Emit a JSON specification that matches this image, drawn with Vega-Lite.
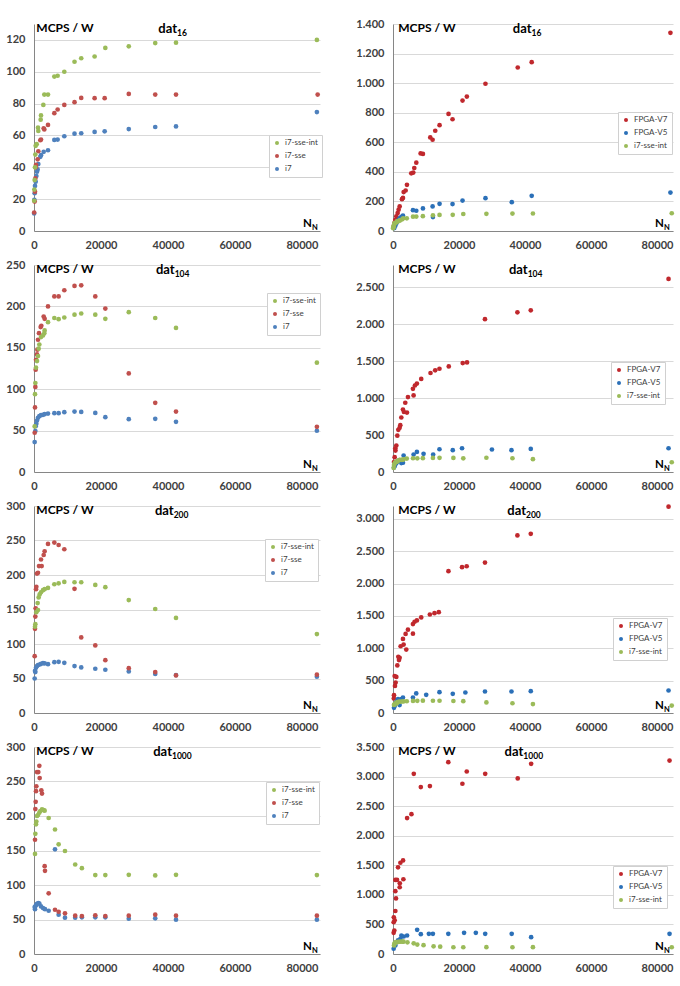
{
"$schema":"https://vega.github.io/schema/vega-lite/v6.json",
"padding":{"left":5,"top":18,"right":0,"bottom":0},
"bounds":"flush",
"columns":2,
"spacing":{"row":34,"column":73},
"resolve":{"scale":{"color":"independent","x":"independent","y":"independent"},"legend":{"color":"independent"}},
"config":{
 "view":{"stroke":null},
 "font":"Lato",
 "axis":{"labelFont":"Lato","labelFontWeight":"bold","labelFontSize":11,"labelColor":"#404040","ticks":false,"domainColor":"#868686","gridColor":"#D9D9D9","gridWidth":1,"labelPadding":9,"title":null,"labelOverlap":false},
 "axisX":{"grid":false,"labelPadding":8,"labelFlush":false},
 "axisY":{"grid":true},
 "legend":{"orient":"none","strokeColor":"#D0D0D0","fillColor":"#FFFFFF","padding":4,"symbolType":"circle","symbolSize":16,"symbolStrokeWidth":0,"labelFont":"Lato","labelFontSize":8,"labelColor":"#404040","rowPadding":5,"labelOffset":4},
 "style":{
  "lbl":{"font":"Lato","fontWeight":"bold","fontSize":12,"fill":"#404040","align":"left","baseline":"alphabetic"},
  "big":{"font":"Lato","fontWeight":"bold","fontSize":13,"fill":"#404040","align":"right","baseline":"alphabetic"},
  "nn":{"font":"Lato","fontWeight":"bold","fontSize":11.5,"fill":"#404040","align":"right","baseline":"alphabetic"},
  "sub":{"font":"Lato","fontWeight":"bold","fontSize":8.5,"fill":"#404040","align":"left","baseline":"alphabetic"},
  "nsub":{"font":"Lato","fontWeight":"bold","fontSize":7.5,"fill":"#404040","align":"left","baseline":"alphabetic"}
 }
},
"concat":[
 {"width":286,"height":207,"layer":[
  {"data":{"name":"pts"},"transform":[{"filter":"datum.d=='16'&&indexof(datum.s,'i7')==0"}],"mark":{"type":"circle","size":22,"opacity":1},
   "encoding":{"x":{"field":"n","type":"quantitative","scale":{"domain":[0,85400],"nice":false},"axis":{"values":[0,20000,40000,60000,80000],"format":"d","tickCount":20}},
    "y":{"field":"v","type":"quantitative","scale":{"domain":[0,130],"nice":false},"axis":{"values":[0,20,40,60,80,100,120],"tickCount":20}},
    "color":{"field":"s","type":"nominal","scale":{"domain":["i7-sse-int","i7-sse","i7"],"range":["#9BBB59","#C0504D","#4F81BD"]},"legend":{"orient":"none","legendX":235,"legendY":111,"title":null}}}},
  {"data":{"values":[{}]},"mark":{"type":"text","style":"lbl","dy":8},"encoding":{"x":{"datum":700},"y":{"datum":130},"text":{"value":"MCPS / W"}}},
  {"data":{"values":[{}]},"mark":{"type":"text","style":"big","dy":9},"encoding":{"x":{"datum":42700},"y":{"datum":130},"text":{"value":"dat"}}},
  {"data":{"values":[{}]},"mark":{"type":"text","style":"sub","dy":11.5},"encoding":{"x":{"datum":42700},"y":{"datum":130},"text":{"value":"16"}}},
  {"data":{"values":[{}]},"mark":{"type":"text","style":"nn","dy":-4},"encoding":{"x":{"datum":83000},"y":{"datum":0},"text":{"value":"N"}}},
  {"data":{"values":[{}]},"mark":{"type":"text","style":"nsub","dy":-1},"encoding":{"x":{"datum":83000},"y":{"datum":0},"text":{"value":"N"}}}
 ]},
 {"width":280,"height":207,"layer":[
  {"data":{"name":"pts"},"transform":[{"filter":"datum.d=='16'&&(datum.s=='i7-sse-int'||indexof(datum.s,'FPGA')==0)"}],"mark":{"type":"circle","size":22,"opacity":1},
   "encoding":{"x":{"field":"n","type":"quantitative","scale":{"domain":[0,84850],"nice":false},"axis":{"values":[0,20000,40000,60000,80000],"format":"d","tickCount":20}},
    "y":{"field":"v","type":"quantitative","scale":{"domain":[0,1400],"nice":false},"axis":{"values":[0,200,400,600,800,1000,1200,1400],"tickCount":20,"labelExpr":"replace(format(datum.value,','),',','.')"}},
    "color":{"field":"s","type":"nominal","scale":{"domain":["FPGA-V7","FPGA-V5","i7-sse-int"],"range":["#C0282D","#2B70B8","#9BBB59"]},"legend":{"orient":"none","legendX":225,"legendY":88,"title":null}}}},
  {"data":{"values":[{}]},"mark":{"type":"text","style":"lbl","dy":8},"encoding":{"x":{"datum":1600},"y":{"datum":1400},"text":{"value":"MCPS / W"}}},
  {"data":{"values":[{}]},"mark":{"type":"text","style":"big","dy":9},"encoding":{"x":{"datum":42000},"y":{"datum":1400},"text":{"value":"dat"}}},
  {"data":{"values":[{}]},"mark":{"type":"text","style":"sub","dy":11.5},"encoding":{"x":{"datum":42000},"y":{"datum":1400},"text":{"value":"16"}}},
  {"data":{"values":[{}]},"mark":{"type":"text","style":"nn","dy":-4},"encoding":{"x":{"datum":82100},"y":{"datum":0},"text":{"value":"N"}}},
  {"data":{"values":[{}]},"mark":{"type":"text","style":"nsub","dy":-1},"encoding":{"x":{"datum":82100},"y":{"datum":0},"text":{"value":"N"}}}
 ]},
 {"width":286,"height":207,"layer":[
  {"data":{"name":"pts"},"transform":[{"filter":"datum.d=='104'&&indexof(datum.s,'i7')==0"}],"mark":{"type":"circle","size":22,"opacity":1},
   "encoding":{"x":{"field":"n","type":"quantitative","scale":{"domain":[0,85400],"nice":false},"axis":{"values":[0,20000,40000,60000,80000],"format":"d","tickCount":20}},
    "y":{"field":"v","type":"quantitative","scale":{"domain":[0,250],"nice":false},"axis":{"values":[0,50,100,150,200,250],"tickCount":20}},
    "color":{"field":"s","type":"nominal","scale":{"domain":["i7-sse-int","i7-sse","i7"],"range":["#9BBB59","#C0504D","#4F81BD"]},"legend":{"orient":"none","legendX":233,"legendY":28,"title":null}}}},
  {"data":{"values":[{}]},"mark":{"type":"text","style":"lbl","dy":8},"encoding":{"x":{"datum":700},"y":{"datum":250},"text":{"value":"MCPS / W"}}},
  {"data":{"values":[{}]},"mark":{"type":"text","style":"big","dy":9},"encoding":{"x":{"datum":42000},"y":{"datum":250},"text":{"value":"dat"}}},
  {"data":{"values":[{}]},"mark":{"type":"text","style":"sub","dy":11.5},"encoding":{"x":{"datum":42000},"y":{"datum":250},"text":{"value":"104"}}},
  {"data":{"values":[{}]},"mark":{"type":"text","style":"nn","dy":-4},"encoding":{"x":{"datum":83000},"y":{"datum":0},"text":{"value":"N"}}},
  {"data":{"values":[{}]},"mark":{"type":"text","style":"nsub","dy":-1},"encoding":{"x":{"datum":83000},"y":{"datum":0},"text":{"value":"N"}}}
 ]},
 {"width":280,"height":207,"layer":[
  {"data":{"name":"pts"},"transform":[{"filter":"datum.d=='104'&&(datum.s=='i7-sse-int'||indexof(datum.s,'FPGA')==0)"}],"mark":{"type":"circle","size":22,"opacity":1},
   "encoding":{"x":{"field":"n","type":"quantitative","scale":{"domain":[0,84850],"nice":false},"axis":{"values":[0,20000,40000,60000,80000],"format":"d","tickCount":20}},
    "y":{"field":"v","type":"quantitative","scale":{"domain":[0,2800],"nice":false},"axis":{"values":[0,500,1000,1500,2000,2500],"tickCount":20,"labelExpr":"replace(format(datum.value,','),',','.')"}},
    "color":{"field":"s","type":"nominal","scale":{"domain":["FPGA-V7","FPGA-V5","i7-sse-int"],"range":["#C0282D","#2B70B8","#9BBB59"]},"legend":{"orient":"none","legendX":218,"legendY":97,"title":null}}}},
  {"data":{"values":[{}]},"mark":{"type":"text","style":"lbl","dy":8},"encoding":{"x":{"datum":1600},"y":{"datum":2800},"text":{"value":"MCPS / W"}}},
  {"data":{"values":[{}]},"mark":{"type":"text","style":"big","dy":9},"encoding":{"x":{"datum":40800},"y":{"datum":2800},"text":{"value":"dat"}}},
  {"data":{"values":[{}]},"mark":{"type":"text","style":"sub","dy":11.5},"encoding":{"x":{"datum":40800},"y":{"datum":2800},"text":{"value":"104"}}},
  {"data":{"values":[{}]},"mark":{"type":"text","style":"nn","dy":-4},"encoding":{"x":{"datum":82100},"y":{"datum":0},"text":{"value":"N"}}},
  {"data":{"values":[{}]},"mark":{"type":"text","style":"nsub","dy":-1},"encoding":{"x":{"datum":82100},"y":{"datum":0},"text":{"value":"N"}}}
 ]},
 {"width":286,"height":207,"layer":[
  {"data":{"name":"pts"},"transform":[{"filter":"datum.d=='200'&&indexof(datum.s,'i7')==0"}],"mark":{"type":"circle","size":22,"opacity":1},
   "encoding":{"x":{"field":"n","type":"quantitative","scale":{"domain":[0,85400],"nice":false},"axis":{"values":[0,20000,40000,60000,80000],"format":"d","tickCount":20}},
    "y":{"field":"v","type":"quantitative","scale":{"domain":[0,300],"nice":false},"axis":{"values":[0,50,100,150,200,250,300],"tickCount":20}},
    "color":{"field":"s","type":"nominal","scale":{"domain":["i7-sse-int","i7-sse","i7"],"range":["#9BBB59","#C0504D","#4F81BD"]},"legend":{"orient":"none","legendX":231,"legendY":33,"title":null}}}},
  {"data":{"values":[{}]},"mark":{"type":"text","style":"lbl","dy":8},"encoding":{"x":{"datum":700},"y":{"datum":300},"text":{"value":"MCPS / W"}}},
  {"data":{"values":[{}]},"mark":{"type":"text","style":"big","dy":9},"encoding":{"x":{"datum":41700},"y":{"datum":300},"text":{"value":"dat"}}},
  {"data":{"values":[{}]},"mark":{"type":"text","style":"sub","dy":11.5},"encoding":{"x":{"datum":41700},"y":{"datum":300},"text":{"value":"200"}}},
  {"data":{"values":[{}]},"mark":{"type":"text","style":"nn","dy":-4},"encoding":{"x":{"datum":83000},"y":{"datum":0},"text":{"value":"N"}}},
  {"data":{"values":[{}]},"mark":{"type":"text","style":"nsub","dy":-1},"encoding":{"x":{"datum":83000},"y":{"datum":0},"text":{"value":"N"}}}
 ]},
 {"width":280,"height":207,"layer":[
  {"data":{"name":"pts"},"transform":[{"filter":"datum.d=='200'&&(datum.s=='i7-sse-int'||indexof(datum.s,'FPGA')==0)"}],"mark":{"type":"circle","size":22,"opacity":1},
   "encoding":{"x":{"field":"n","type":"quantitative","scale":{"domain":[0,84850],"nice":false},"axis":{"values":[0,20000,40000,60000,80000],"format":"d","tickCount":20}},
    "y":{"field":"v","type":"quantitative","scale":{"domain":[0,3200],"nice":false},"axis":{"values":[0,500,1000,1500,2000,2500,3000],"tickCount":20,"labelExpr":"replace(format(datum.value,','),',','.')"}},
    "color":{"field":"s","type":"nominal","scale":{"domain":["FPGA-V7","FPGA-V5","i7-sse-int"],"range":["#C0282D","#2B70B8","#9BBB59"]},"legend":{"orient":"none","legendX":220,"legendY":112,"title":null}}}},
  {"data":{"values":[{}]},"mark":{"type":"text","style":"lbl","dy":8},"encoding":{"x":{"datum":1600},"y":{"datum":3200},"text":{"value":"MCPS / W"}}},
  {"data":{"values":[{}]},"mark":{"type":"text","style":"big","dy":9},"encoding":{"x":{"datum":40300},"y":{"datum":3200},"text":{"value":"dat"}}},
  {"data":{"values":[{}]},"mark":{"type":"text","style":"sub","dy":11.5},"encoding":{"x":{"datum":40300},"y":{"datum":3200},"text":{"value":"200"}}},
  {"data":{"values":[{}]},"mark":{"type":"text","style":"nn","dy":-4},"encoding":{"x":{"datum":82100},"y":{"datum":0},"text":{"value":"N"}}},
  {"data":{"values":[{}]},"mark":{"type":"text","style":"nsub","dy":-1},"encoding":{"x":{"datum":82100},"y":{"datum":0},"text":{"value":"N"}}}
 ]},
 {"width":286,"height":207,"layer":[
  {"data":{"name":"pts"},"transform":[{"filter":"datum.d=='1000'&&indexof(datum.s,'i7')==0"}],"mark":{"type":"circle","size":22,"opacity":1},
   "encoding":{"x":{"field":"n","type":"quantitative","scale":{"domain":[0,85400],"nice":false},"axis":{"values":[0,20000,40000,60000,80000],"format":"d","tickCount":20}},
    "y":{"field":"v","type":"quantitative","scale":{"domain":[0,300],"nice":false},"axis":{"values":[0,50,100,150,200,250,300],"tickCount":20}},
    "color":{"field":"s","type":"nominal","scale":{"domain":["i7-sse-int","i7-sse","i7"],"range":["#9BBB59","#C0504D","#4F81BD"]},"legend":{"orient":"none","legendX":232,"legendY":35,"title":null}}}},
  {"data":{"values":[{}]},"mark":{"type":"text","style":"lbl","dy":8},"encoding":{"x":{"datum":700},"y":{"datum":300},"text":{"value":"MCPS / W"}}},
  {"data":{"values":[{}]},"mark":{"type":"text","style":"big","dy":9},"encoding":{"x":{"datum":41200},"y":{"datum":300},"text":{"value":"dat"}}},
  {"data":{"values":[{}]},"mark":{"type":"text","style":"sub","dy":11.5},"encoding":{"x":{"datum":41200},"y":{"datum":300},"text":{"value":"1000"}}},
  {"data":{"values":[{}]},"mark":{"type":"text","style":"nn","dy":-4},"encoding":{"x":{"datum":83000},"y":{"datum":0},"text":{"value":"N"}}},
  {"data":{"values":[{}]},"mark":{"type":"text","style":"nsub","dy":-1},"encoding":{"x":{"datum":83000},"y":{"datum":0},"text":{"value":"N"}}}
 ]},
 {"width":280,"height":207,"layer":[
  {"data":{"name":"pts"},"transform":[{"filter":"datum.d=='1000'&&(datum.s=='i7-sse-int'||indexof(datum.s,'FPGA')==0)"}],"mark":{"type":"circle","size":22,"opacity":1},
   "encoding":{"x":{"field":"n","type":"quantitative","scale":{"domain":[0,84850],"nice":false},"axis":{"values":[0,20000,40000,60000,80000],"format":"d","tickCount":20}},
    "y":{"field":"v","type":"quantitative","scale":{"domain":[0,3500],"nice":false},"axis":{"values":[0,500,1000,1500,2000,2500,3000,3500],"tickCount":20,"labelExpr":"replace(format(datum.value,','),',','.')"}},
    "color":{"field":"s","type":"nominal","scale":{"domain":["FPGA-V7","FPGA-V5","i7-sse-int"],"range":["#C0282D","#2B70B8","#9BBB59"]},"legend":{"orient":"none","legendX":220,"legendY":119,"title":null}}}},
  {"data":{"values":[{}]},"mark":{"type":"text","style":"lbl","dy":8},"encoding":{"x":{"datum":1600},"y":{"datum":3500},"text":{"value":"MCPS / W"}}},
  {"data":{"values":[{}]},"mark":{"type":"text","style":"big","dy":9},"encoding":{"x":{"datum":39500},"y":{"datum":3500},"text":{"value":"dat"}}},
  {"data":{"values":[{}]},"mark":{"type":"text","style":"sub","dy":11.5},"encoding":{"x":{"datum":39500},"y":{"datum":3500},"text":{"value":"1000"}}},
  {"data":{"values":[{}]},"mark":{"type":"text","style":"nn","dy":-4},"encoding":{"x":{"datum":82100},"y":{"datum":0},"text":{"value":"N"}}},
  {"data":{"values":[{}]},"mark":{"type":"text","style":"nsub","dy":-1},"encoding":{"x":{"datum":82100},"y":{"datum":0},"text":{"value":"N"}}}
 ]}
],
"datasets":{"pts":[
{"d":"16","s":"FPGA-V7","n":84070,"v":1340},{"d":"16","s":"FPGA-V7","n":42030,"v":1142},{"d":"16","s":"FPGA-V7","n":37800,"v":1106},{"d":"16","s":"FPGA-V7","n":28020,"v":996},{"d":"16","s":"FPGA-V7","n":22380,"v":909},{"d":"16","s":"FPGA-V7","n":21070,"v":882},{"d":"16","s":"FPGA-V7","n":18040,"v":756},{"d":"16","s":"FPGA-V7","n":16830,"v":792},{"d":"16","s":"FPGA-V7","n":14110,"v":716},{"d":"16","s":"FPGA-V7","n":12800,"v":678},{"d":"16","s":"FPGA-V7","n":12000,"v":617},{"d":"16","s":"FPGA-V7","n":11290,"v":633},{"d":"16","s":"FPGA-V7","n":9070,"v":521},{"d":"16","s":"FPGA-V7","n":8370,"v":525},{"d":"16","s":"FPGA-V7","n":7060,"v":462},{"d":"16","s":"FPGA-V7","n":6450,"v":426},{"d":"16","s":"FPGA-V7","n":6150,"v":395},{"d":"16","s":"FPGA-V7","n":5540,"v":390},{"d":"16","s":"FPGA-V7","n":4230,"v":312},{"d":"16","s":"FPGA-V7","n":3830,"v":274},{"d":"16","s":"FPGA-V7","n":3230,"v":263},{"d":"16","s":"FPGA-V7","n":3020,"v":224},{"d":"16","s":"FPGA-V7","n":2720,"v":215},{"d":"16","s":"FPGA-V7","n":2020,"v":166},{"d":"16","s":"FPGA-V7","n":1710,"v":144},{"d":"16","s":"FPGA-V7","n":1410,"v":121},{"d":"16","s":"FPGA-V7","n":1010,"v":99},{"d":"16","s":"FPGA-V7","n":700,"v":76},{"d":"16","s":"FPGA-V7","n":400,"v":54},{"d":"16","s":"FPGA-V7","n":200,"v":31},
{"d":"16","s":"FPGA-V5","n":84070,"v":260},{"d":"16","s":"FPGA-V5","n":42030,"v":238},{"d":"16","s":"FPGA-V5","n":36000,"v":195},{"d":"16","s":"FPGA-V5","n":28020,"v":222},{"d":"16","s":"FPGA-V5","n":21070,"v":206},{"d":"16","s":"FPGA-V5","n":18040,"v":182},{"d":"16","s":"FPGA-V5","n":14110,"v":184},{"d":"16","s":"FPGA-V5","n":12000,"v":166},{"d":"16","s":"FPGA-V5","n":12100,"v":94},{"d":"16","s":"FPGA-V5","n":9070,"v":153},{"d":"16","s":"FPGA-V5","n":7060,"v":137},{"d":"16","s":"FPGA-V5","n":6050,"v":141},{"d":"16","s":"FPGA-V5","n":3020,"v":105},{"d":"16","s":"FPGA-V5","n":2500,"v":95},{"d":"16","s":"FPGA-V5","n":2000,"v":85},{"d":"16","s":"FPGA-V5","n":1700,"v":75},{"d":"16","s":"FPGA-V5","n":1400,"v":65},{"d":"16","s":"FPGA-V5","n":1000,"v":50},{"d":"16","s":"FPGA-V5","n":700,"v":35},{"d":"16","s":"FPGA-V5","n":400,"v":20},
{"d":"16","s":"i7","n":84470,"v":74.7},{"d":"16","s":"i7","n":42400,"v":65.7},{"d":"16","s":"i7","n":36200,"v":65.3},{"d":"16","s":"i7","n":28300,"v":64},{"d":"16","s":"i7","n":21100,"v":62.6},{"d":"16","s":"i7","n":18100,"v":62.2},{"d":"16","s":"i7","n":14100,"v":61.4},{"d":"16","s":"i7","n":12100,"v":61.1},{"d":"16","s":"i7","n":9050,"v":59.5},{"d":"16","s":"i7","n":7060,"v":57.4},{"d":"16","s":"i7","n":6070,"v":57.2},{"d":"16","s":"i7","n":4180,"v":50.7},{"d":"16","s":"i7","n":2890,"v":49.7},{"d":"16","s":"i7","n":2090,"v":47.6},{"d":"16","s":"i7","n":1890,"v":46.6},{"d":"16","s":"i7","n":1290,"v":42},{"d":"16","s":"i7","n":1090,"v":38.7},{"d":"16","s":"i7","n":900,"v":37.2},{"d":"16","s":"i7","n":700,"v":34.5},{"d":"16","s":"i7","n":500,"v":31},{"d":"16","s":"i7","n":300,"v":28.3},{"d":"16","s":"i7","n":200,"v":23.7},{"d":"16","s":"i7","n":100,"v":19.6},{"d":"16","s":"i7","n":50,"v":11},
{"d":"16","s":"i7-sse","n":84700,"v":85.7},{"d":"16","s":"i7-sse","n":42400,"v":85.7},{"d":"16","s":"i7-sse","n":36200,"v":85.7},{"d":"16","s":"i7-sse","n":28300,"v":86.1},{"d":"16","s":"i7-sse","n":21100,"v":83.4},{"d":"16","s":"i7-sse","n":18100,"v":83.4},{"d":"16","s":"i7-sse","n":14100,"v":83.6},{"d":"16","s":"i7-sse","n":12100,"v":80.9},{"d":"16","s":"i7-sse","n":9050,"v":79.2},{"d":"16","s":"i7-sse","n":7060,"v":76.3},{"d":"16","s":"i7-sse","n":6070,"v":74},{"d":"16","s":"i7-sse","n":4180,"v":66.6},{"d":"16","s":"i7-sse","n":2890,"v":64.5},{"d":"16","s":"i7-sse","n":3080,"v":63.8},{"d":"16","s":"i7-sse","n":2090,"v":57.4},{"d":"16","s":"i7-sse","n":1890,"v":57},{"d":"16","s":"i7-sse","n":1290,"v":50.1},{"d":"16","s":"i7-sse","n":1090,"v":45},{"d":"16","s":"i7-sse","n":600,"v":41.6},{"d":"16","s":"i7-sse","n":500,"v":40},{"d":"16","s":"i7-sse","n":400,"v":33},{"d":"16","s":"i7-sse","n":300,"v":24.7},{"d":"16","s":"i7-sse","n":200,"v":18.5},{"d":"16","s":"i7-sse","n":50,"v":11.6},
{"d":"16","s":"i7-sse-int","n":84470,"v":120},{"d":"16","s":"i7-sse-int","n":42400,"v":118.3},{"d":"16","s":"i7-sse-int","n":36200,"v":118},{"d":"16","s":"i7-sse-int","n":28300,"v":116},{"d":"16","s":"i7-sse-int","n":21300,"v":115},{"d":"16","s":"i7-sse-int","n":18100,"v":109.6},{"d":"16","s":"i7-sse-int","n":14100,"v":108.5},{"d":"16","s":"i7-sse-int","n":12100,"v":106.3},{"d":"16","s":"i7-sse-int","n":9050,"v":100},{"d":"16","s":"i7-sse-int","n":7060,"v":97.5},{"d":"16","s":"i7-sse-int","n":6070,"v":97},{"d":"16","s":"i7-sse-int","n":4180,"v":85.7},{"d":"16","s":"i7-sse-int","n":3080,"v":85.7},{"d":"16","s":"i7-sse-int","n":2790,"v":79.2},{"d":"16","s":"i7-sse-int","n":2090,"v":72.6},{"d":"16","s":"i7-sse-int","n":1990,"v":69.9},{"d":"16","s":"i7-sse-int","n":1190,"v":64.9},{"d":"16","s":"i7-sse-int","n":1290,"v":62.8},{"d":"16","s":"i7-sse-int","n":800,"v":54.5},{"d":"16","s":"i7-sse-int","n":500,"v":53.5},{"d":"16","s":"i7-sse-int","n":400,"v":48},{"d":"16","s":"i7-sse-int","n":300,"v":40},{"d":"16","s":"i7-sse-int","n":200,"v":32},{"d":"16","s":"i7-sse-int","n":100,"v":26},{"d":"16","s":"i7-sse-int","n":50,"v":19},
{"d":"104","s":"FPGA-V7","n":83500,"v":2612},{"d":"104","s":"FPGA-V7","n":41750,"v":2187},{"d":"104","s":"FPGA-V7","n":37700,"v":2160},{"d":"104","s":"FPGA-V7","n":27870,"v":2067},{"d":"104","s":"FPGA-V7","n":22430,"v":1482},{"d":"104","s":"FPGA-V7","n":21130,"v":1473},{"d":"104","s":"FPGA-V7","n":16900,"v":1428},{"d":"104","s":"FPGA-V7","n":14080,"v":1397},{"d":"104","s":"FPGA-V7","n":12780,"v":1375},{"d":"104","s":"FPGA-V7","n":11370,"v":1339},{"d":"104","s":"FPGA-V7","n":8550,"v":1259},{"d":"104","s":"FPGA-V7","n":7240,"v":1196},{"d":"104","s":"FPGA-V7","n":6640,"v":1170},{"d":"104","s":"FPGA-V7","n":6040,"v":1125},{"d":"104","s":"FPGA-V7","n":6240,"v":1036},{"d":"104","s":"FPGA-V7","n":4530,"v":1013},{"d":"104","s":"FPGA-V7","n":4230,"v":804},{"d":"104","s":"FPGA-V7","n":3720,"v":937},{"d":"104","s":"FPGA-V7","n":3320,"v":812},{"d":"104","s":"FPGA-V7","n":3020,"v":844},{"d":"104","s":"FPGA-V7","n":2520,"v":737},{"d":"104","s":"FPGA-V7","n":2210,"v":634},{"d":"104","s":"FPGA-V7","n":2010,"v":598},{"d":"104","s":"FPGA-V7","n":1610,"v":571},{"d":"104","s":"FPGA-V7","n":1310,"v":491},{"d":"104","s":"FPGA-V7","n":1010,"v":357},{"d":"104","s":"FPGA-V7","n":700,"v":321},{"d":"104","s":"FPGA-V7","n":750,"v":290},{"d":"104","s":"FPGA-V7","n":500,"v":200},{"d":"104","s":"FPGA-V7","n":300,"v":134},
{"d":"104","s":"FPGA-V5","n":83500,"v":321},{"d":"104","s":"FPGA-V5","n":41750,"v":312},{"d":"104","s":"FPGA-V5","n":35900,"v":295},{"d":"104","s":"FPGA-V5","n":29980,"v":304},{"d":"104","s":"FPGA-V5","n":20920,"v":321},{"d":"104","s":"FPGA-V5","n":18110,"v":295},{"d":"104","s":"FPGA-V5","n":14080,"v":308},{"d":"104","s":"FPGA-V5","n":12170,"v":237},{"d":"104","s":"FPGA-V5","n":9260,"v":246},{"d":"104","s":"FPGA-V5","n":7240,"v":272},{"d":"104","s":"FPGA-V5","n":6240,"v":237},{"d":"104","s":"FPGA-V5","n":3220,"v":223},{"d":"104","s":"FPGA-V5","n":3020,"v":125},{"d":"104","s":"FPGA-V5","n":2520,"v":121},{"d":"104","s":"FPGA-V5","n":2000,"v":160},{"d":"104","s":"FPGA-V5","n":1600,"v":150},{"d":"104","s":"FPGA-V5","n":1300,"v":140},{"d":"104","s":"FPGA-V5","n":1000,"v":120},{"d":"104","s":"FPGA-V5","n":700,"v":100},{"d":"104","s":"FPGA-V5","n":500,"v":80},{"d":"104","s":"FPGA-V5","n":300,"v":60},
{"d":"104","s":"i7","n":84470,"v":49.8},{"d":"104","s":"i7","n":42400,"v":60.6},{"d":"104","s":"i7","n":36200,"v":64.2},{"d":"104","s":"i7","n":28300,"v":63.8},{"d":"104","s":"i7","n":21300,"v":66.2},{"d":"104","s":"i7","n":18300,"v":71.4},{"d":"104","s":"i7","n":14100,"v":72.6},{"d":"104","s":"i7","n":12100,"v":73},{"d":"104","s":"i7","n":9050,"v":72.2},{"d":"104","s":"i7","n":7360,"v":71},{"d":"104","s":"i7","n":6070,"v":71},{"d":"104","s":"i7","n":4180,"v":70.6},{"d":"104","s":"i7","n":3180,"v":69.8},{"d":"104","s":"i7","n":2690,"v":69},{"d":"104","s":"i7","n":2090,"v":68.6},{"d":"104","s":"i7","n":1590,"v":67.4},{"d":"104","s":"i7","n":1190,"v":65.4},{"d":"104","s":"i7","n":900,"v":62.2},{"d":"104","s":"i7","n":700,"v":58.2},{"d":"104","s":"i7","n":500,"v":55.4},{"d":"104","s":"i7","n":400,"v":49.4},{"d":"104","s":"i7","n":200,"v":36.1},
{"d":"104","s":"i7-sse","n":84470,"v":54.6},{"d":"104","s":"i7-sse","n":42400,"v":73},{"d":"104","s":"i7-sse","n":36200,"v":83.5},{"d":"104","s":"i7-sse","n":28300,"v":119},{"d":"104","s":"i7-sse","n":21300,"v":197.4},{"d":"104","s":"i7-sse","n":18300,"v":212},{"d":"104","s":"i7-sse","n":14100,"v":225.5},{"d":"104","s":"i7-sse","n":12100,"v":224.7},{"d":"104","s":"i7-sse","n":9050,"v":219.5},{"d":"104","s":"i7-sse","n":7360,"v":212},{"d":"104","s":"i7-sse","n":6070,"v":212},{"d":"104","s":"i7-sse","n":4180,"v":200},{"d":"104","s":"i7-sse","n":3180,"v":185},{"d":"104","s":"i7-sse","n":2890,"v":187.8},{"d":"104","s":"i7-sse","n":2190,"v":176.6},{"d":"104","s":"i7-sse","n":1990,"v":175},{"d":"104","s":"i7-sse","n":1490,"v":167.7},{"d":"104","s":"i7-sse","n":1190,"v":159.7},{"d":"104","s":"i7-sse","n":1000,"v":147.7},{"d":"104","s":"i7-sse","n":900,"v":142},{"d":"104","s":"i7-sse","n":600,"v":135.6},{"d":"104","s":"i7-sse","n":500,"v":123.6},{"d":"104","s":"i7-sse","n":400,"v":102.7},{"d":"104","s":"i7-sse","n":300,"v":78},{"d":"104","s":"i7-sse","n":200,"v":47.4},
{"d":"104","s":"i7-sse-int","n":84470,"v":132},{"d":"104","s":"i7-sse-int","n":42400,"v":174},{"d":"104","s":"i7-sse-int","n":36200,"v":186},{"d":"104","s":"i7-sse-int","n":28300,"v":193},{"d":"104","s":"i7-sse-int","n":21300,"v":185},{"d":"104","s":"i7-sse-int","n":18300,"v":190},{"d":"104","s":"i7-sse-int","n":14100,"v":191.4},{"d":"104","s":"i7-sse-int","n":12100,"v":190},{"d":"104","s":"i7-sse-int","n":9050,"v":186.6},{"d":"104","s":"i7-sse-int","n":7360,"v":184.6},{"d":"104","s":"i7-sse-int","n":6070,"v":186},{"d":"104","s":"i7-sse-int","n":4180,"v":181},{"d":"104","s":"i7-sse-int","n":3180,"v":171},{"d":"104","s":"i7-sse-int","n":3080,"v":167.7},{"d":"104","s":"i7-sse-int","n":2690,"v":165},{"d":"104","s":"i7-sse-int","n":2090,"v":163},{"d":"104","s":"i7-sse-int","n":1590,"v":154},{"d":"104","s":"i7-sse-int","n":1390,"v":149},{"d":"104","s":"i7-sse-int","n":1190,"v":140},{"d":"104","s":"i7-sse-int","n":900,"v":134},{"d":"104","s":"i7-sse-int","n":600,"v":126},{"d":"104","s":"i7-sse-int","n":400,"v":107.5},{"d":"104","s":"i7-sse-int","n":300,"v":94},{"d":"104","s":"i7-sse-int","n":200,"v":55},
{"d":"200","s":"FPGA-V7","n":83500,"v":3189},{"d":"200","s":"FPGA-V7","n":41750,"v":2770},{"d":"200","s":"FPGA-V7","n":37700,"v":2745},{"d":"200","s":"FPGA-V7","n":27870,"v":2325},{"d":"200","s":"FPGA-V7","n":22330,"v":2269},{"d":"200","s":"FPGA-V7","n":20920,"v":2254},{"d":"200","s":"FPGA-V7","n":16800,"v":2193},{"d":"200","s":"FPGA-V7","n":13880,"v":1559},{"d":"200","s":"FPGA-V7","n":12570,"v":1543},{"d":"200","s":"FPGA-V7","n":11170,"v":1523},{"d":"200","s":"FPGA-V7","n":8550,"v":1477},{"d":"200","s":"FPGA-V7","n":7240,"v":1431},{"d":"200","s":"FPGA-V7","n":6540,"v":1411},{"d":"200","s":"FPGA-V7","n":6040,"v":1375},{"d":"200","s":"FPGA-V7","n":6040,"v":1227},{"d":"200","s":"FPGA-V7","n":4530,"v":1288},{"d":"200","s":"FPGA-V7","n":3820,"v":1222},{"d":"200","s":"FPGA-V7","n":4020,"v":981},{"d":"200","s":"FPGA-V7","n":3020,"v":1145},{"d":"200","s":"FPGA-V7","n":3220,"v":1058},{"d":"200","s":"FPGA-V7","n":2310,"v":1032},{"d":"200","s":"FPGA-V7","n":2010,"v":854},{"d":"200","s":"FPGA-V7","n":1810,"v":818},{"d":"200","s":"FPGA-V7","n":1610,"v":869},{"d":"200","s":"FPGA-V7","n":1310,"v":736},{"d":"200","s":"FPGA-V7","n":1010,"v":557},{"d":"200","s":"FPGA-V7","n":800,"v":470},{"d":"200","s":"FPGA-V7","n":600,"v":419},{"d":"200","s":"FPGA-V7","n":500,"v":572},{"d":"200","s":"FPGA-V7","n":300,"v":276},{"d":"200","s":"FPGA-V7","n":250,"v":225},
{"d":"200","s":"FPGA-V5","n":83500,"v":348},{"d":"200","s":"FPGA-V5","n":41750,"v":337},{"d":"200","s":"FPGA-V5","n":35900,"v":332},{"d":"200","s":"FPGA-V5","n":27870,"v":332},{"d":"200","s":"FPGA-V5","n":21930,"v":317},{"d":"200","s":"FPGA-V5","n":18110,"v":296},{"d":"200","s":"FPGA-V5","n":14080,"v":322},{"d":"200","s":"FPGA-V5","n":10060,"v":281},{"d":"200","s":"FPGA-V5","n":7040,"v":302},{"d":"200","s":"FPGA-V5","n":6040,"v":240},{"d":"200","s":"FPGA-V5","n":3020,"v":240},{"d":"200","s":"FPGA-V5","n":2520,"v":215},{"d":"200","s":"FPGA-V5","n":2010,"v":123},{"d":"200","s":"FPGA-V5","n":1510,"v":215},{"d":"200","s":"FPGA-V5","n":1300,"v":190},{"d":"200","s":"FPGA-V5","n":1000,"v":170},{"d":"200","s":"FPGA-V5","n":700,"v":140},{"d":"200","s":"FPGA-V5","n":500,"v":110},{"d":"200","s":"FPGA-V5","n":300,"v":80},
{"d":"200","s":"i7","n":84470,"v":52.6},{"d":"200","s":"i7","n":42400,"v":55},{"d":"200","s":"i7","n":36200,"v":56.5},{"d":"200","s":"i7","n":28300,"v":60.3},{"d":"200","s":"i7","n":21300,"v":62.7},{"d":"200","s":"i7","n":18300,"v":64.1},{"d":"200","s":"i7","n":14100,"v":66},{"d":"200","s":"i7","n":12100,"v":68},{"d":"200","s":"i7","n":9050,"v":72.7},{"d":"200","s":"i7","n":7360,"v":74.2},{"d":"200","s":"i7","n":6070,"v":73.7},{"d":"200","s":"i7","n":4180,"v":70.8},{"d":"200","s":"i7","n":3180,"v":71.8},{"d":"200","s":"i7","n":2690,"v":72.2},{"d":"200","s":"i7","n":2090,"v":71.3},{"d":"200","s":"i7","n":1690,"v":70.3},{"d":"200","s":"i7","n":1190,"v":69.4},{"d":"200","s":"i7","n":900,"v":68},{"d":"200","s":"i7","n":600,"v":65.6},{"d":"200","s":"i7","n":400,"v":59.3},{"d":"200","s":"i7","n":300,"v":61},{"d":"200","s":"i7","n":200,"v":50},
{"d":"200","s":"i7-sse","n":84470,"v":55.5},{"d":"200","s":"i7-sse","n":42400,"v":54.5},{"d":"200","s":"i7-sse","n":36200,"v":59.3},{"d":"200","s":"i7-sse","n":28300,"v":65},{"d":"200","s":"i7-sse","n":21300,"v":76.6},{"d":"200","s":"i7-sse","n":18300,"v":98},{"d":"200","s":"i7-sse","n":14100,"v":109.6},{"d":"200","s":"i7-sse","n":12100,"v":180},{"d":"200","s":"i7-sse","n":9050,"v":237.3},{"d":"200","s":"i7-sse","n":7360,"v":243.5},{"d":"200","s":"i7-sse","n":6070,"v":247},{"d":"200","s":"i7-sse","n":4180,"v":245},{"d":"200","s":"i7-sse","n":3180,"v":234.4},{"d":"200","s":"i7-sse","n":2890,"v":229},{"d":"200","s":"i7-sse","n":2290,"v":213},{"d":"200","s":"i7-sse","n":2090,"v":222.5},{"d":"200","s":"i7-sse","n":1490,"v":213},{"d":"200","s":"i7-sse","n":1190,"v":203.3},{"d":"200","s":"i7-sse","n":900,"v":202},{"d":"200","s":"i7-sse","n":700,"v":182.8},{"d":"200","s":"i7-sse","n":600,"v":179.4},{"d":"200","s":"i7-sse","n":500,"v":151.7},{"d":"200","s":"i7-sse","n":400,"v":139.7},{"d":"200","s":"i7-sse","n":300,"v":122},{"d":"200","s":"i7-sse","n":200,"v":82.3},
{"d":"200","s":"i7-sse-int","n":84470,"v":114.4},{"d":"200","s":"i7-sse-int","n":42400,"v":137.8},{"d":"200","s":"i7-sse-int","n":36200,"v":150.7},{"d":"200","s":"i7-sse-int","n":28300,"v":163.6},{"d":"200","s":"i7-sse-int","n":21300,"v":182.3},{"d":"200","s":"i7-sse-int","n":18300,"v":185.6},{"d":"200","s":"i7-sse-int","n":14100,"v":189.5},{"d":"200","s":"i7-sse-int","n":12100,"v":189.5},{"d":"200","s":"i7-sse-int","n":9050,"v":190},{"d":"200","s":"i7-sse-int","n":7360,"v":188},{"d":"200","s":"i7-sse-int","n":6070,"v":186.6},{"d":"200","s":"i7-sse-int","n":4180,"v":181.3},{"d":"200","s":"i7-sse-int","n":3180,"v":179.4},{"d":"200","s":"i7-sse-int","n":2690,"v":178},{"d":"200","s":"i7-sse-int","n":2090,"v":175},{"d":"200","s":"i7-sse-int","n":1690,"v":171.8},{"d":"200","s":"i7-sse-int","n":1390,"v":167.5},{"d":"200","s":"i7-sse-int","n":1090,"v":159.3},{"d":"200","s":"i7-sse-int","n":1190,"v":149.3},{"d":"200","s":"i7-sse-int","n":700,"v":146},{"d":"200","s":"i7-sse-int","n":400,"v":128.7},{"d":"200","s":"i7-sse-int","n":300,"v":125},
{"d":"1000","s":"FPGA-V7","n":83800,"v":3271},{"d":"1000","s":"FPGA-V7","n":41860,"v":3215},{"d":"1000","s":"FPGA-V7","n":37800,"v":2969},{"d":"1000","s":"FPGA-V7","n":27940,"v":3047},{"d":"1000","s":"FPGA-V7","n":22350,"v":3086},{"d":"1000","s":"FPGA-V7","n":21030,"v":2879},{"d":"1000","s":"FPGA-V7","n":16760,"v":3243},{"d":"1000","s":"FPGA-V7","n":11180,"v":2840},{"d":"1000","s":"FPGA-V7","n":8430,"v":2823},{"d":"1000","s":"FPGA-V7","n":6300,"v":3047},{"d":"1000","s":"FPGA-V7","n":5590,"v":2365},{"d":"1000","s":"FPGA-V7","n":4270,"v":2298},{"d":"1000","s":"FPGA-V7","n":3050,"v":1582},{"d":"1000","s":"FPGA-V7","n":2240,"v":1543},{"d":"1000","s":"FPGA-V7","n":2030,"v":1129},{"d":"1000","s":"FPGA-V7","n":2060,"v":1196},{"d":"1000","s":"FPGA-V7","n":1520,"v":1465},{"d":"1000","s":"FPGA-V7","n":1220,"v":1252},{"d":"1000","s":"FPGA-V7","n":710,"v":1252},{"d":"1000","s":"FPGA-V7","n":710,"v":1062},{"d":"1000","s":"FPGA-V7","n":3150,"v":1264},{"d":"1000","s":"FPGA-V7","n":910,"v":939},{"d":"1000","s":"FPGA-V7","n":710,"v":727},{"d":"1000","s":"FPGA-V7","n":510,"v":570},{"d":"1000","s":"FPGA-V7","n":200,"v":537},{"d":"1000","s":"FPGA-V7","n":400,"v":397},{"d":"1000","s":"FPGA-V7","n":200,"v":358},{"d":"1000","s":"FPGA-V7","n":250,"v":620},
{"d":"1000","s":"FPGA-V5","n":83800,"v":341},{"d":"1000","s":"FPGA-V5","n":41860,"v":285},{"d":"1000","s":"FPGA-V5","n":35970,"v":341},{"d":"1000","s":"FPGA-V5","n":27940,"v":341},{"d":"1000","s":"FPGA-V5","n":25100,"v":358},{"d":"1000","s":"FPGA-V5","n":21540,"v":358},{"d":"1000","s":"FPGA-V5","n":16760,"v":341},{"d":"1000","s":"FPGA-V5","n":12090,"v":341},{"d":"1000","s":"FPGA-V5","n":10870,"v":341},{"d":"1000","s":"FPGA-V5","n":8430,"v":335},{"d":"1000","s":"FPGA-V5","n":7320,"v":408},{"d":"1000","s":"FPGA-V5","n":4270,"v":313},{"d":"1000","s":"FPGA-V5","n":3250,"v":296},{"d":"1000","s":"FPGA-V5","n":2540,"v":313},{"d":"1000","s":"FPGA-V5","n":2240,"v":257},{"d":"1000","s":"FPGA-V5","n":1520,"v":229},{"d":"1000","s":"FPGA-V5","n":1220,"v":201},{"d":"1000","s":"FPGA-V5","n":710,"v":145},{"d":"1000","s":"FPGA-V5","n":200,"v":89},
{"d":"1000","s":"i7","n":84470,"v":49.8},{"d":"1000","s":"i7","n":42400,"v":49.8},{"d":"1000","s":"i7","n":36200,"v":51.7},{"d":"1000","s":"i7","n":28300,"v":51.2},{"d":"1000","s":"i7","n":21300,"v":53.1},{"d":"1000","s":"i7","n":18300,"v":53.1},{"d":"1000","s":"i7","n":14300,"v":53.1},{"d":"1000","s":"i7","n":12300,"v":52.6},{"d":"1000","s":"i7","n":9250,"v":52.6},{"d":"1000","s":"i7","n":7360,"v":56.9},{"d":"1000","s":"i7","n":6270,"v":151.7},{"d":"1000","s":"i7","n":4380,"v":62.7},{"d":"1000","s":"i7","n":3280,"v":65},{"d":"1000","s":"i7","n":2690,"v":66.5},{"d":"1000","s":"i7","n":2090,"v":68.9},{"d":"1000","s":"i7","n":1590,"v":73.2},{"d":"1000","s":"i7","n":1290,"v":73.7},{"d":"1000","s":"i7","n":900,"v":72.7},{"d":"1000","s":"i7","n":700,"v":71.3},{"d":"1000","s":"i7","n":500,"v":69.9},{"d":"1000","s":"i7","n":300,"v":65},{"d":"1000","s":"i7","n":200,"v":68},
{"d":"1000","s":"i7-sse","n":84470,"v":55.5},{"d":"1000","s":"i7-sse","n":42400,"v":55.5},{"d":"1000","s":"i7-sse","n":36200,"v":57},{"d":"1000","s":"i7-sse","n":28300,"v":55.5},{"d":"1000","s":"i7-sse","n":21300,"v":55},{"d":"1000","s":"i7-sse","n":18300,"v":56},{"d":"1000","s":"i7-sse","n":14300,"v":55},{"d":"1000","s":"i7-sse","n":12300,"v":55.5},{"d":"1000","s":"i7-sse","n":9250,"v":58.9},{"d":"1000","s":"i7-sse","n":7360,"v":61.2},{"d":"1000","s":"i7-sse","n":6270,"v":64.1},{"d":"1000","s":"i7-sse","n":4380,"v":88},{"d":"1000","s":"i7-sse","n":3280,"v":120.6},{"d":"1000","s":"i7-sse","n":3180,"v":127.3},{"d":"1000","s":"i7-sse","n":2390,"v":232.5},{"d":"1000","s":"i7-sse","n":2190,"v":237.3},{"d":"1000","s":"i7-sse","n":1690,"v":255},{"d":"1000","s":"i7-sse","n":1590,"v":272.7},{"d":"1000","s":"i7-sse","n":1290,"v":263.6},{"d":"1000","s":"i7-sse","n":900,"v":263.6},{"d":"1000","s":"i7-sse","n":700,"v":243},{"d":"1000","s":"i7-sse","n":600,"v":236},{"d":"1000","s":"i7-sse","n":500,"v":220.6},{"d":"1000","s":"i7-sse","n":400,"v":210},{"d":"1000","s":"i7-sse","n":300,"v":165.6},
{"d":"1000","s":"i7-sse-int","n":84470,"v":114.4},{"d":"1000","s":"i7-sse-int","n":42400,"v":114.8},{"d":"1000","s":"i7-sse-int","n":36200,"v":113.9},{"d":"1000","s":"i7-sse-int","n":28300,"v":114.8},{"d":"1000","s":"i7-sse-int","n":21300,"v":114.4},{"d":"1000","s":"i7-sse-int","n":18300,"v":114.4},{"d":"1000","s":"i7-sse-int","n":14300,"v":124.4},{"d":"1000","s":"i7-sse-int","n":12300,"v":129.7},{"d":"1000","s":"i7-sse-int","n":9250,"v":149.3},{"d":"1000","s":"i7-sse-int","n":7360,"v":158.9},{"d":"1000","s":"i7-sse-int","n":6270,"v":180.4},{"d":"1000","s":"i7-sse-int","n":4380,"v":197.1},{"d":"1000","s":"i7-sse-int","n":3180,"v":207.7},{"d":"1000","s":"i7-sse-int","n":2890,"v":208.6},{"d":"1000","s":"i7-sse-int","n":2390,"v":209.6},{"d":"1000","s":"i7-sse-int","n":1890,"v":207.2},{"d":"1000","s":"i7-sse-int","n":1590,"v":204.8},{"d":"1000","s":"i7-sse-int","n":1190,"v":201.4},{"d":"1000","s":"i7-sse-int","n":900,"v":200},{"d":"1000","s":"i7-sse-int","n":700,"v":191.9},{"d":"1000","s":"i7-sse-int","n":600,"v":188},{"d":"1000","s":"i7-sse-int","n":400,"v":174.2},{"d":"1000","s":"i7-sse-int","n":300,"v":145}
]}
}
